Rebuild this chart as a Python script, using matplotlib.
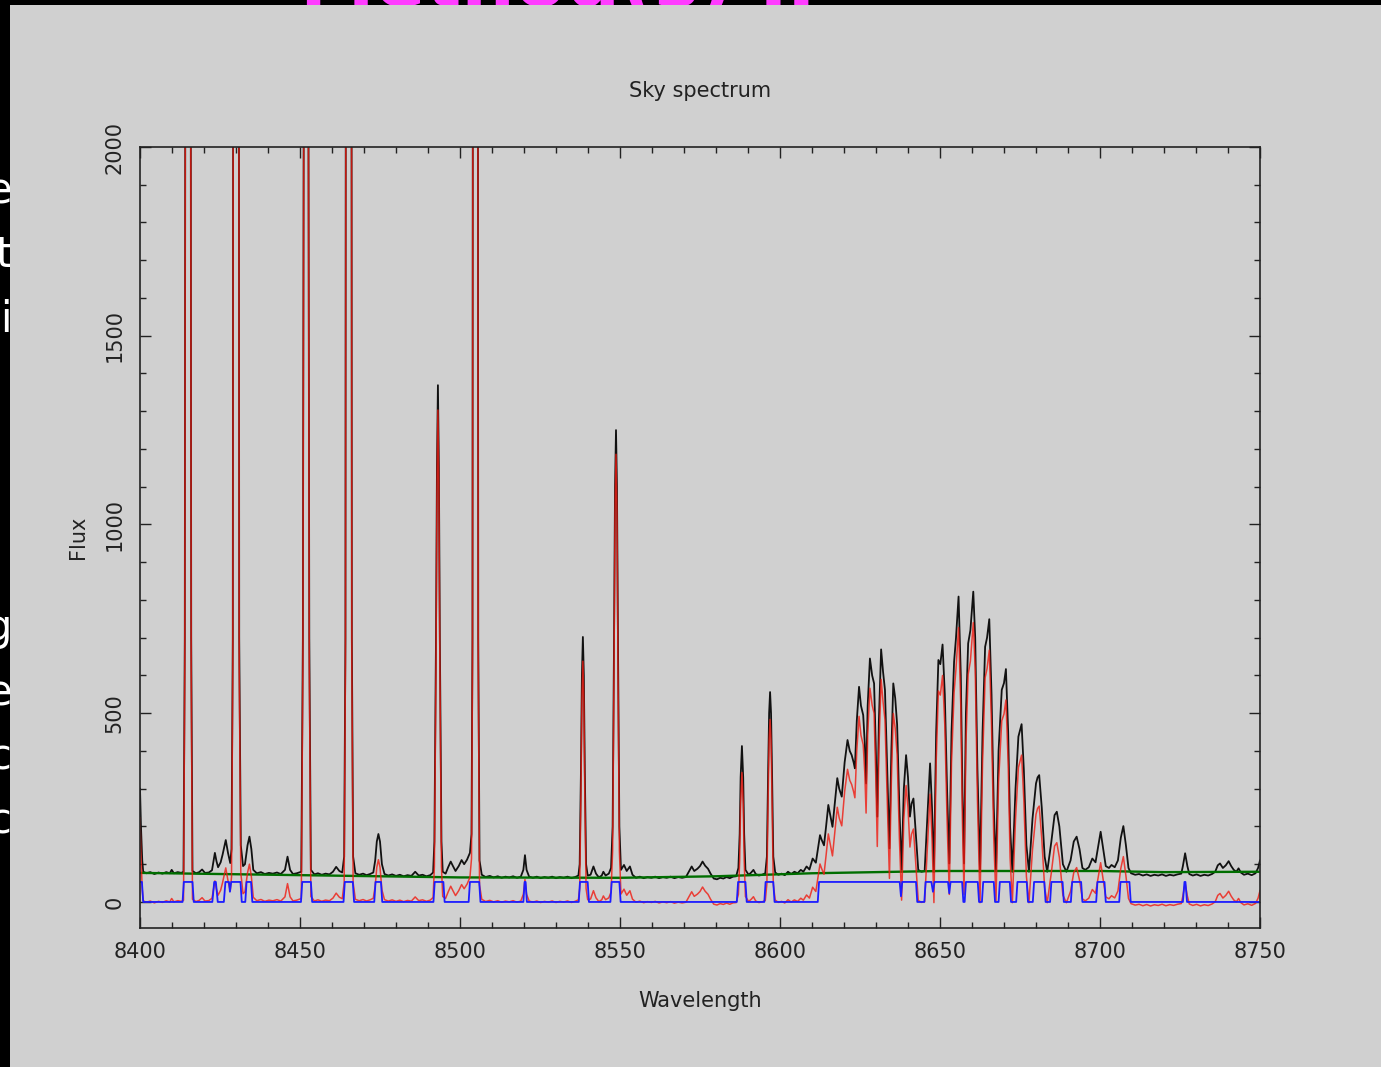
import numpy as np
import matplotlib
matplotlib.use("Agg")
from matplotlib import pyplot as plt
from matplotlib.ticker import MultipleLocator

# sky spectrum (black): [wavelength, flux]
sky = np.array([
    [8400.0, 300], [8400.3, 200], [8400.7, 110], [8401.0, 80], [8402.0, 76], [8403.2, 79],
    [8404.5, 74], [8405.8, 78], [8407.0, 75], [8408.2, 79], [8409.3, 76], [8409.9, 85],
    [8410.6, 76], [8411.8, 79], [8412.9, 77],
    [8413.6, 80], [8414.0, 700], [8414.15, 2300], [8415.0, 6000], [8415.85, 2300], [8416.0, 700],
    [8416.4, 82], [8417.5, 76], [8418.5, 79], [8419.4, 86], [8420.3, 77], [8421.5, 78],
    [8422.5, 84], [8423.0, 110], [8423.4, 130], [8423.9, 108], [8424.4, 92], [8425.2, 105],
    [8425.8, 125], [8426.8, 164], [8427.5, 130], [8428.2, 103],
    [8428.6, 140], [8429.0, 700], [8429.1, 2300], [8430.0, 6000], [8430.9, 2300], [8431.0, 700],
    [8431.5, 150], [8432.2, 95], [8432.8, 100], [8433.6, 150], [8434.2, 173], [8434.8, 140],
    [8435.4, 85], [8436.5, 76], [8437.8, 79], [8439.0, 74], [8440.3, 77], [8441.5, 75],
    [8442.8, 78], [8444.0, 74], [8445.3, 85], [8446.1, 120], [8446.9, 85], [8447.8, 74],
    [8449.0, 76], [8450.4, 80],
    [8450.9, 700], [8451.2, 2300], [8451.9, 6000], [8452.6, 2300], [8452.9, 700],
    [8453.4, 85], [8454.5, 73], [8455.6, 76], [8456.8, 72], [8458.0, 75], [8459.2, 73],
    [8460.3, 80], [8461.3, 93], [8462.3, 82], [8463.2, 78],
    [8463.8, 120], [8464.2, 700], [8464.3, 2300], [8465.2, 6000], [8466.1, 2300], [8466.2, 700],
    [8466.6, 120], [8467.3, 76], [8468.5, 72], [8469.7, 75], [8470.8, 71], [8471.9, 74],
    [8472.9, 78], [8473.5, 110], [8474.0, 160], [8474.5, 180], [8475.0, 160], [8475.6, 100],
    [8476.4, 74], [8477.6, 70], [8478.8, 73], [8480.0, 69], [8481.2, 72], [8482.4, 68],
    [8483.6, 71], [8484.8, 69], [8486.0, 80], [8487.1, 70], [8488.3, 72], [8489.5, 68],
    [8490.7, 71], [8491.6, 78],
    [8492.0, 160], [8492.5, 700], [8492.8, 1150], [8493.1, 1369], [8493.4, 1150], [8493.7, 700],
    [8494.2, 160], [8494.6, 80], [8495.5, 75], [8496.3, 92], [8497.1, 107], [8497.8, 95],
    [8498.6, 82], [8499.6, 95], [8500.5, 111], [8501.3, 100], [8502.2, 112], [8503.1, 130],
    [8503.6, 180], [8503.9, 700], [8504.0, 2300], [8504.8, 6000], [8505.6, 2300], [8505.7, 700],
    [8506.1, 110], [8506.8, 72], [8508.0, 66], [8509.3, 69], [8510.5, 65], [8511.8, 68],
    [8513.0, 64], [8514.2, 67], [8515.4, 65], [8516.6, 68], [8517.8, 64], [8519.0, 67],
    [8519.8, 85], [8520.3, 124], [8520.8, 85], [8521.6, 67], [8522.8, 64], [8524.0, 67],
    [8525.2, 63], [8526.4, 66], [8527.6, 64], [8528.8, 67], [8530.0, 63], [8531.2, 66],
    [8532.4, 64], [8533.6, 67], [8534.8, 63], [8536.0, 66], [8537.0, 70],
    [8537.4, 100], [8537.8, 350], [8538.1, 600], [8538.4, 702], [8538.7, 600], [8539.0, 350],
    [8539.4, 100], [8539.9, 70], [8540.8, 72], [8541.7, 94], [8542.5, 75], [8543.4, 65],
    [8544.3, 70], [8544.8, 80], [8545.5, 70], [8546.5, 75], [8547.2, 90],
    [8547.7, 200], [8548.1, 650], [8548.45, 1100], [8548.75, 1250], [8549.05, 1100], [8549.4, 650],
    [8549.8, 200], [8550.3, 85], [8551.25, 98], [8552.1, 82], [8553.1, 94], [8553.9, 72],
    [8555.0, 64], [8556.2, 67], [8557.4, 63], [8558.6, 66], [8559.8, 64], [8561.0, 67],
    [8562.2, 63], [8563.4, 66], [8564.6, 64], [8565.8, 67], [8567.0, 63], [8568.2, 66],
    [8569.4, 64], [8570.6, 66], [8571.5, 80], [8572.4, 94], [8573.2, 82], [8574.2, 88],
    [8575.0, 95], [8575.8, 107], [8576.6, 96], [8577.5, 88], [8578.3, 75], [8579.3, 62],
    [8580.3, 60], [8581.3, 64], [8582.3, 62], [8583.3, 66], [8584.3, 63], [8585.3, 67],
    [8586.3, 68], [8587.0, 90],
    [8587.4, 180], [8587.7, 330], [8588.1, 413], [8588.5, 330], [8588.8, 180],
    [8589.2, 85], [8590.2, 72], [8591.0, 78], [8591.7, 85], [8592.4, 74], [8593.4, 70],
    [8594.4, 72], [8595.4, 76],
    [8595.9, 120], [8596.3, 350], [8596.6, 500], [8596.9, 556], [8597.2, 500], [8597.5, 350],
    [8597.9, 120], [8598.5, 78], [8599.5, 72], [8600.5, 75], [8601.5, 71], [8602.5, 80],
    [8603.5, 74], [8604.5, 80], [8605.5, 76], [8606.5, 85], [8607.3, 80], [8608.3, 94],
    [8609.2, 86], [8610.2, 115], [8611.2, 104],
    [8612.0, 150], [8612.5, 177], [8613.0, 165], [8613.75, 150], [8614.4, 200], [8615.1, 257],
    [8615.7, 230], [8616.4, 199], [8617.1, 260], [8617.9, 328], [8618.5, 300], [8619.3, 279],
    [8620.2, 370], [8621.1, 429], [8621.8, 400], [8622.4, 389], [8623.0, 370], [8623.4, 354],
    [8624.0, 480], [8624.7, 570], [8625.3, 520], [8626.0, 495], [8626.5, 420], [8626.9, 314],
    [8627.4, 520], [8628.1, 645], [8628.8, 600], [8629.4, 579], [8629.9, 420], [8630.4, 226],
    [8630.9, 480], [8631.6, 669], [8632.2, 610], [8632.8, 562], [8633.5, 350], [8634.2, 142],
    [8634.8, 400], [8635.4, 579], [8636.0, 540], [8636.6, 470], [8637.3, 250], [8638.0, 85],
    [8638.7, 300], [8639.4, 389], [8640.0, 330], [8640.6, 226], [8641.1, 260], [8641.7, 274],
    [8642.3, 200], [8643.2, 85], [8644.2, 80], [8645.2, 82], [8645.9, 200], [8646.9, 367],
    [8647.5, 250], [8648.1, 80], [8648.8, 450], [8649.5, 641], [8650.1, 630], [8650.8, 682],
    [8651.5, 550], [8652.2, 300], [8652.9, 102], [8653.6, 450], [8654.4, 636], [8655.0, 700],
    [8655.8, 809], [8656.5, 600], [8657.0, 300], [8657.5, 102], [8658.1, 500], [8658.8, 685],
    [8659.5, 720], [8660.4, 822], [8661.0, 700], [8661.7, 350], [8662.5, 80], [8663.3, 450],
    [8664.1, 676], [8664.7, 700], [8665.4, 749], [8666.1, 550], [8666.8, 250], [8667.5, 85],
    [8668.3, 400], [8669.3, 562], [8670.0, 580], [8670.6, 617], [8671.3, 450], [8671.9, 200],
    [8672.6, 80], [8673.6, 300], [8674.5, 438], [8675.0, 455], [8675.5, 471], [8676.2, 350],
    [8677.0, 150], [8677.8, 80], [8678.9, 220], [8680.0, 314], [8680.5, 330], [8681.0, 336],
    [8681.8, 250], [8682.7, 120], [8683.5, 80], [8684.8, 160], [8685.8, 230], [8686.5, 239],
    [8687.3, 200], [8688.4, 100], [8689.5, 80], [8690.8, 110], [8691.8, 160], [8692.7, 173],
    [8693.6, 140], [8694.5, 90], [8695.4, 85], [8696.5, 92], [8697.6, 115], [8698.6, 105],
    [8699.3, 140], [8700.2, 186], [8701.0, 140], [8701.8, 95], [8702.8, 90], [8703.6, 98],
    [8704.6, 92], [8705.6, 110], [8706.5, 170], [8707.3, 201], [8708.1, 150], [8708.9, 90],
    [8709.7, 76], [8711.0, 72], [8712.2, 74], [8713.4, 70], [8714.6, 73], [8715.8, 69],
    [8717.0, 72], [8718.2, 70], [8719.4, 73], [8720.6, 69], [8721.8, 72], [8723.0, 70],
    [8724.2, 73], [8725.4, 75], [8725.9, 95], [8726.6, 129], [8727.3, 95], [8727.9, 74],
    [8729.0, 70], [8730.2, 73], [8731.4, 69], [8732.6, 72], [8733.8, 70], [8735.0, 74],
    [8736.0, 80], [8736.8, 97], [8737.5, 102], [8738.4, 90], [8739.3, 97], [8740.2, 108],
    [8741.0, 95], [8741.8, 85], [8742.6, 80], [8743.3, 89], [8744.0, 78], [8745.0, 72],
    [8746.2, 75], [8747.4, 71], [8748.6, 76], [8749.4, 90], [8750.0, 110],
])

# fitted continuum (green)
cont_wl = [8400, 8450, 8500, 8550, 8580, 8610, 8650, 8700, 8720, 8750]
cont_flux = [77, 71, 65, 64, 68, 76, 82, 82, 79, 80]

# line mask (blue): [wavelength, level]
mask = np.array([
    [8400.0, 53], [8400.6, 53], [8401.0, 0], [8413.3, 0], [8413.7, 53], [8416.4, 53],
    [8416.8, 0], [8422.6, 0], [8423.2, 53], [8423.7, 53], [8424.3, 0], [8426.2, 0],
    [8426.7, 53], [8427.8, 53], [8428.1, 27], [8428.5, 53], [8431.4, 53], [8431.8, 0],
    [8432.9, 0], [8433.3, 53], [8434.7, 53], [8435.1, 0], [8450.3, 0], [8450.7, 53],
    [8453.4, 53], [8453.8, 0], [8463.6, 0], [8464.0, 53], [8466.5, 53], [8466.9, 0],
    [8473.2, 0], [8473.6, 53], [8475.3, 53], [8475.7, 0], [8491.7, 0], [8492.1, 53],
    [8494.8, 53], [8495.2, 0], [8502.7, 0], [8503.1, 53], [8506.0, 53], [8506.4, 0],
    [8519.8, 0], [8520.2, 53], [8520.5, 53], [8520.9, 0], [8537.1, 0], [8537.5, 53],
    [8539.9, 53], [8540.3, 0], [8547.0, 0], [8547.4, 53], [8549.8, 53], [8550.2, 0],
    [8586.5, 0], [8586.9, 53], [8589.2, 53], [8589.6, 0], [8595.1, 0], [8595.5, 53],
    [8597.9, 53], [8598.3, 0], [8611.8, 0], [8612.2, 53], [8637.4, 53], [8637.8, 15],
    [8638.2, 53], [8642.5, 53], [8642.9, 0], [8645.1, 0], [8645.5, 53], [8647.3, 53],
    [8647.8, 27], [8648.3, 53], [8652.5, 53], [8652.9, 23], [8653.3, 53], [8656.9, 53],
    [8657.3, 0], [8657.7, 0], [8658.1, 53], [8661.8, 53], [8662.2, 0], [8663.1, 0],
    [8663.5, 53], [8666.8, 53], [8667.2, 0], [8668.3, 0], [8668.7, 53], [8671.8, 53],
    [8672.2, 0], [8673.8, 0], [8674.2, 53], [8677.1, 53], [8677.5, 0], [8679.0, 0],
    [8679.4, 53], [8682.6, 53], [8683.0, 0], [8684.4, 0], [8684.8, 53], [8688.3, 53],
    [8688.7, 0], [8690.9, 0], [8691.3, 53], [8694.1, 53], [8694.5, 0], [8698.8, 0],
    [8699.2, 53], [8701.4, 53], [8701.8, 0], [8706.0, 0], [8706.4, 53], [8709.2, 53],
    [8709.6, 0], [8725.9, 0], [8726.4, 53], [8726.7, 53], [8727.2, 0], [8750.0, 0],
])

# slide text peeking out round the plot
slide_title = 'Method(s) II'
edge_letters = ['e', 't', 'i', 'g', 'e', 'c', 'c']
edge_rows = [191, 255, 320, 628, 693, 758, 822]

sky_wl = sky[:, 0]
sky_flux = sky[:, 1]
# continuum subtracted sky (red)
sub_flux = sky_flux - np.interp(sky_wl, cont_wl, cont_flux)

W, H = 1381, 1067
fig = plt.figure(figsize=(W / 100, H / 100), dpi=100, facecolor='black')

# slide behind the screenshot
slide = fig.add_axes([0, 0, 1, 1], zorder=0)
slide.set_axis_off()
slide.text(300 / W, 1 - 6 / H, slide_title, transform=fig.transFigure, color='#ff3cff',
           fontsize=54, fontweight='bold', ha='left', va='baseline')
for ch, yp in zip(edge_letters, edge_rows):
    slide.text(12 / W, 1 - yp / H, ch, transform=fig.transFigure, color='white',
               fontsize=30, ha='right', va='center')

# grey screenshot panel covering the slide
panel = fig.add_axes([10 / W, 0, 1 - 10 / W, 1 - 5 / H], zorder=1)
panel.set_facecolor('#d0d0d0')
panel.set_xticks([])
panel.set_yticks([])
for sp in panel.spines.values():
    sp.set_visible(False)

ax = fig.add_axes([140 / W, 1 - 928 / H, 1120 / W, 781 / H], zorder=2)
ax.set_facecolor('#d0d0d0')

ax.plot(sky_wl, sky_flux, color='#111111', lw=1.3)
ax.plot(cont_wl, cont_flux, color='#006e00', lw=1.7)
ax.plot(sky_wl, sub_flux, color='#f01a10', lw=1.1, alpha=0.8)
ax.plot(mask[:, 0], mask[:, 1], color='#1c1cff', lw=1.3)

ax.set_xlim(8400, 8750)
ax.set_ylim(-69, 2000)
ax.xaxis.set_major_locator(MultipleLocator(50))
ax.xaxis.set_minor_locator(MultipleLocator(10))
ax.yaxis.set_major_locator(MultipleLocator(500))
ax.yaxis.set_minor_locator(MultipleLocator(100))
ax.tick_params(which='both', direction='in', top=True, right=True, color='#222222', width=1)
ax.tick_params(which='major', length=8)
ax.tick_params(which='minor', length=4.5)
ax.tick_params(axis='x', labelsize=15, pad=10, labelcolor='#222222')
ax.tick_params(axis='y', labelsize=15, pad=11, labelcolor='#222222', labelrotation=90)
for lbl in ax.get_yticklabels():
    lbl.set_va('center')
for sp in ax.spines.values():
    sp.set_color('#222222')
    sp.set_linewidth(1.2)

fig.text(700 / W, 1 - 91 / H, 'Sky spectrum', fontsize=15, color='#222222', ha='center',
         va='center', zorder=5)
fig.text(700 / W, 1 - 1001 / H, 'Wavelength', fontsize=15, color='#222222', ha='center',
         va='center', zorder=5)
fig.text(78 / W, 1 - 537 / H, 'Flux', fontsize=15, color='#222222', ha='center', va='center',
         rotation=90, zorder=5)

fig.savefig('out.png', dpi=100, facecolor=fig.get_facecolor())
